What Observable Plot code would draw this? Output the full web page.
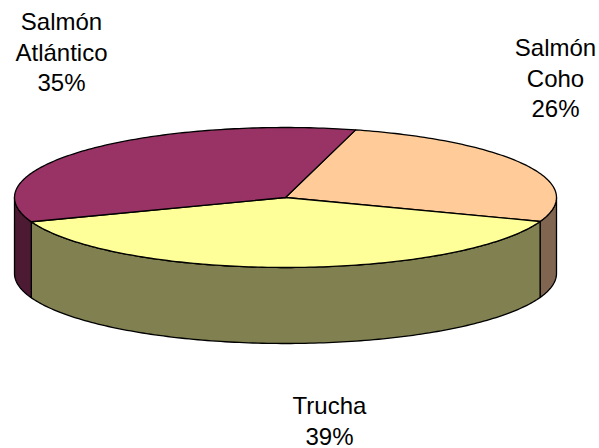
<!DOCTYPE html>
<html>
<head>
<meta charset="utf-8">
<style>html,body{margin:0;padding:0;background:#fff}svg{display:block}</style>
<script src="https://cdn.jsdelivr.net/npm/d3@7"></script>
<script src="https://cdn.jsdelivr.net/npm/@observablehq/plot@0.6"></script>
</head>
<body>
<script>
const categories = ["Salmón Coho", "Trucha", "Salmón Atlántico"];
const shares = [26.4, 38.8, 34.8];
const labelNames = ["Salmón\nCoho", "Trucha", "Salmón\nAtlántico"];
const topColors = ["#FFCC99", "#FFFF99", "#993366"];
const sideColors = ["#806650", "#808050", "#4D1A33"];
const labelOffsets = [[555, 34], [329, 392], [61, 8]];

const rad = Math.PI / 180;
const rotation = 15 * rad;
const depth = 76 / 70;
const arcs = d3.pie().sort(null).startAngle(rotation).endAngle(rotation + 2 * Math.PI)(shares);

// Walk an ellipse arc in unit coordinates, one degree at a time.
function arcPoints(a0, a1, drop) {
  const n = Math.max(2, Math.ceil((a1 - a0) / rad));
  return d3.range(n + 1).map(i => {
    const a = a0 + (a1 - a0) * i / n;
    return {x: Math.sin(a), y: -Math.cos(a) + drop};
  });
}

const faces = [];
function addFace(id, key, pts) { pts.forEach(p => faces.push({...p, id, key})); }

// Visible wall segments: only the front half of the disc.
arcs.forEach((arc, i) => {
  [[arc.startAngle, arc.endAngle], [arc.startAngle - 2 * Math.PI, arc.endAngle - 2 * Math.PI]].forEach(([s, e], j) => {
    const a0 = Math.max(s, Math.PI / 2), a1 = Math.min(e, 3 * Math.PI / 2);
    if (a1 > a0) {
      const upper = arcPoints(a0, a1, 0);
      const lower = arcPoints(a0, a1, depth).reverse();
      addFace(`side-${i}-${j}`, "side-" + i, [...upper, ...lower, upper[0]]);
    }
  });
});
arcs.forEach((arc, i) => {
  addFace(`top-${i}`, "top-" + i, [{x: 0, y: 0}, ...arcPoints(arc.startAngle, arc.endAngle, 0), {x: 0, y: 0}]);
});

const keyDomain = [...categories.map((_, i) => "top-" + i), ...categories.map((_, i) => "side-" + i)];
const keyRange = [...topColors, ...sideColors];

const labels = categories.map((c, i) => ({
  text: `${labelNames[i]}\n${Math.round(shares[i])}%`,
  dx: labelOffsets[i][0],
  dy: labelOffsets[i][1]
}));

const plot = Plot.plot({
  width: 599,
  height: 448,
  margin: 0,
  style: {background: "#fff", fontFamily: "'Liberation Sans', Arial, sans-serif"},
  x: {axis: null, domain: [-1, 1], range: [14, 556]},
  y: {axis: null, domain: [-1, 1], range: [127, 267]},
  color: {domain: keyDomain, range: keyRange},
  marks: [
    Plot.line(faces, {
      x: "x", y: "y", z: "id",
      fill: "key",
      stroke: "#000",
      strokeWidth: 1.3,
      strokeLinejoin: "round",
      curve: "linear"
    }),
    ...labels.map(l => Plot.text([l], {
      text: "text",
      frameAnchor: "top-left",
      dx: l.dx,
      dy: l.dy,
      textAnchor: "middle",
      lineAnchor: "top",
      lineHeight: 30.5 / 24,
      fontSize: 24,
      fill: "#000"
    }))
  ]
});
document.body.appendChild(plot);
</script>
</body>
</html>
